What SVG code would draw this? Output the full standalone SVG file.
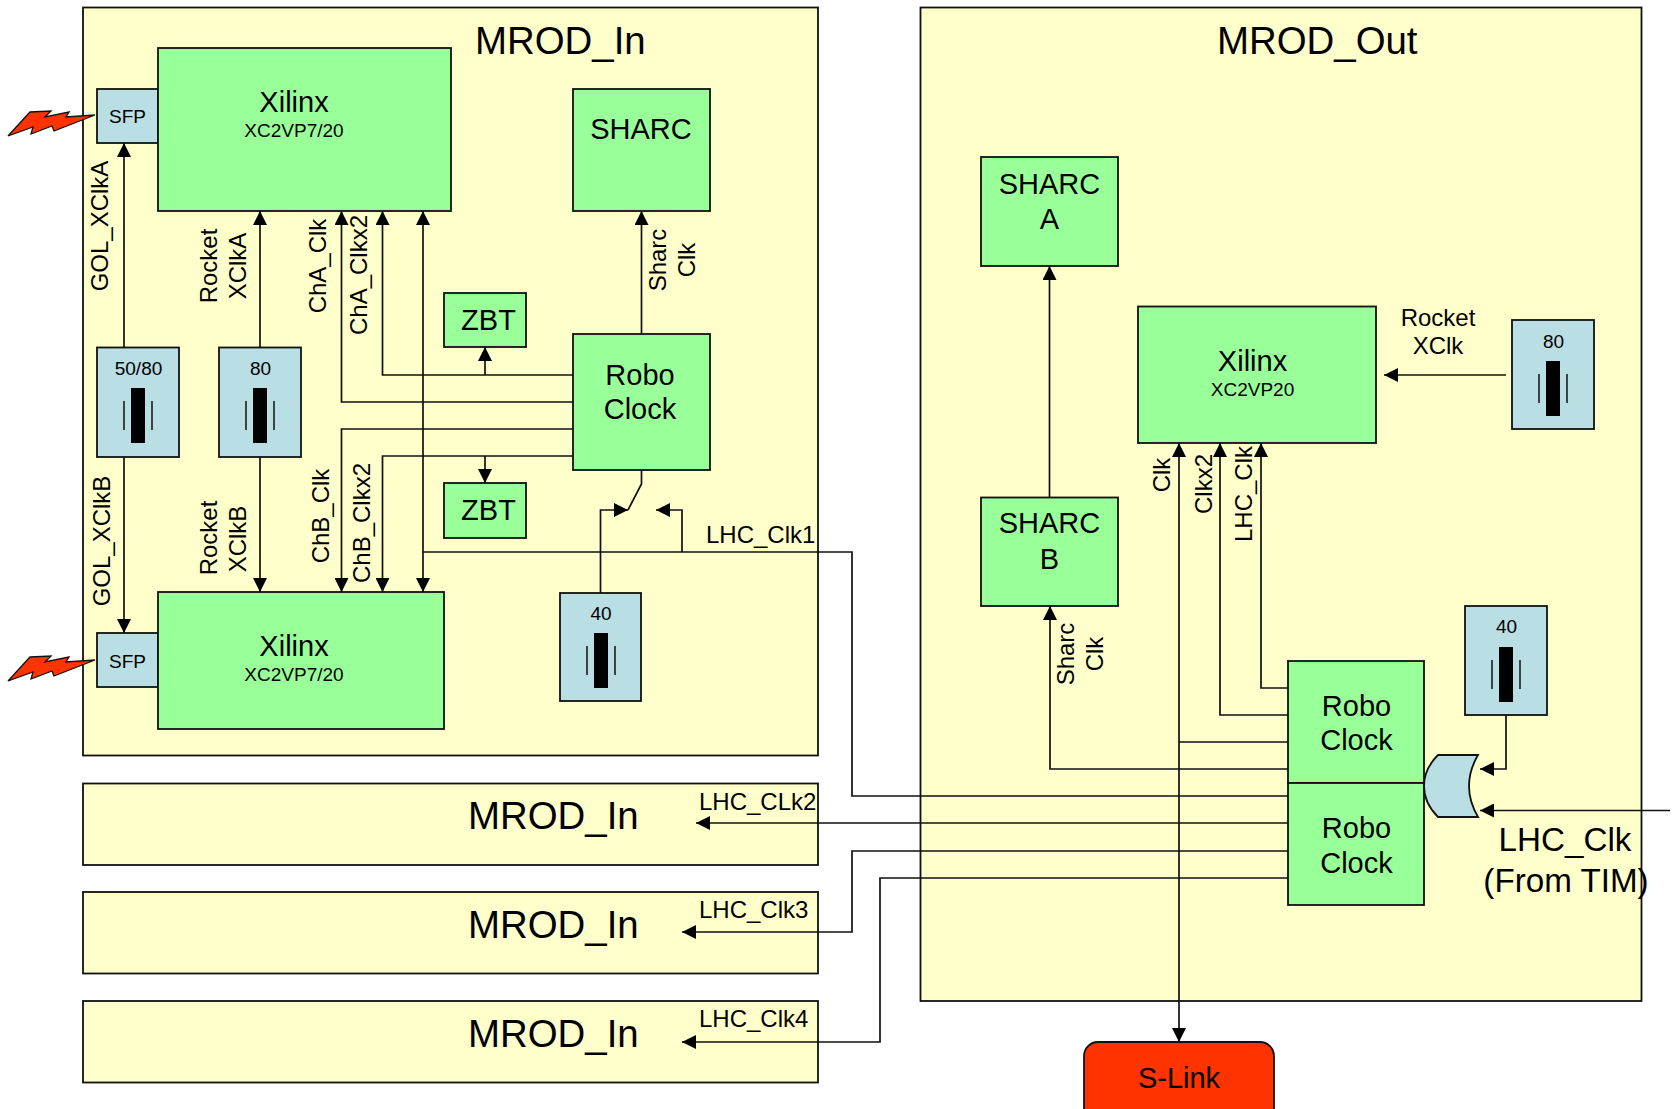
<svg xmlns="http://www.w3.org/2000/svg" width="1674" height="1109" viewBox="0 0 1674 1109">
<style>
text{font-family:"Liberation Sans",Arial,sans-serif;fill:#000;text-anchor:middle}
.box{stroke:#111;stroke-width:1.8}
.y{fill:#ffffcc}.g{fill:#99ff99}.b{fill:#b9dfe4}.r{fill:#ff3300}
.t38{font-size:38.4px}.t33{font-size:33.2px}.t29{font-size:29px}.t24{font-size:24px}.t19{font-size:19px}
.s{text-anchor:start}
.bar{fill:#000}
.tick{stroke:#111;stroke-width:1.5;fill:none}
.c{fill:none;stroke:#111;stroke-width:1.7}
.a{marker-end:url(#arr)}
</style>
<defs>
<marker id="arr" markerUnits="userSpaceOnUse" markerWidth="14" markerHeight="14" refX="14" refY="7" orient="auto-start-reverse"><path d="M0,0L14,7L0,14Z" fill="#000"/></marker>
<g id="xtal"><rect class="bar" x="-7" y="0" width="14" height="55"/><path class="tick" d="M-14,13V42M14,13V42"/></g>
<polygon id="bolt" points="8,136 30,112 51,111 45,117 69,112 66,117 95,115 54,131 52,126 31,134 33,127" class="r" stroke="#111" stroke-width="1.3"/>
</defs>

<g id="mrod-in-main"><rect class="box y" x="83" y="7.500" width="735" height="748"/><text class="t38 s" x="475" y="54">MROD_In</text></g>
<g id="mrod-in-2"><rect class="box y" x="83" y="783.500" width="735" height="81.500"/><text class="t38 s" x="468" y="829">MROD_In</text></g>
<g id="mrod-in-3"><rect class="box y" x="83" y="892" width="735" height="81.500"/><text class="t38 s" x="468" y="938">MROD_In</text></g>
<g id="mrod-in-4"><rect class="box y" x="83" y="1001" width="735" height="81.500"/><text class="t38 s" x="468" y="1047">MROD_In</text></g>
<g id="mrod-out"><rect class="box y" x="920.500" y="7.500" width="721" height="993.500"/><text class="t38 s" x="1217" y="54">MROD_Out</text></g>

<g id="bolt-a"><use href="#bolt"/></g>
<g id="bolt-b"><use href="#bolt" y="545"/></g>
<g id="sfp-a"><rect class="box b" x="97" y="89" width="61" height="54"/><text class="t19" x="127.500" y="123">SFP</text></g>
<g id="sfp-b"><rect class="box b" x="97" y="633" width="61" height="54"/><text class="t19" x="127.500" y="668">SFP</text></g>
<g id="xilinx-a"><rect class="box g" x="158" y="48" width="293" height="163"/><text class="t29" x="294" y="112">Xilinx</text><text class="t19" x="294" y="137">XC2VP7/20</text></g>
<g id="xilinx-b"><rect class="box g" x="158" y="592" width="286" height="137"/><text class="t29" x="294" y="656">Xilinx</text><text class="t19" x="294" y="681">XC2VP7/20</text></g>
<g id="sharc-in"><rect class="box g" x="573" y="89" width="137" height="122"/><text class="t29" x="641" y="139">SHARC</text></g>
<g id="zbt-1"><rect class="box g" x="444" y="293" width="82" height="54"/><text class="t29" x="488.500" y="330">ZBT</text></g>
<g id="zbt-2"><rect class="box g" x="444" y="483" width="82" height="55"/><text class="t29" x="488.500" y="520">ZBT</text></g>
<g id="robo-in"><rect class="box g" x="573" y="334" width="137" height="136"/><text class="t29" x="640" y="385">Robo</text><text class="t29" x="640" y="419">Clock</text></g>
<g id="osc-5080"><rect class="box b" x="97" y="347.500" width="82" height="109.500"/><text class="t19" x="138.500" y="375">50/80</text><use href="#xtal" x="138" y="388"/></g>
<g id="osc-80-in"><rect class="box b" x="219" y="347.500" width="82" height="109.500"/><text class="t19" x="260.500" y="375">80</text><use href="#xtal" x="260" y="388"/></g>
<g id="osc-40-in"><rect class="box b" x="560" y="593" width="81" height="108"/><text class="t19" x="601" y="620">40</text><use href="#xtal" x="601" y="633"/></g>

<g id="sharc-a"><rect class="box g" x="981" y="157" width="137" height="109"/><text class="t29" x="1049.500" y="194">SHARC</text><text class="t29" x="1049.500" y="229">A</text></g>
<g id="sharc-b"><rect class="box g" x="981" y="497.500" width="137" height="108.500"/><text class="t29" x="1049.500" y="533">SHARC</text><text class="t29" x="1049.500" y="569">B</text></g>
<g id="xilinx-out"><rect class="box g" x="1138" y="306.500" width="238" height="136.500"/><text class="t29" x="1252.500" y="371">Xilinx</text><text class="t19" x="1252.500" y="396">XC2VP20</text></g>
<g id="osc-80-out"><rect class="box b" x="1512" y="320" width="82" height="109"/><text class="t19" x="1553.500" y="348">80</text><use href="#xtal" x="1553" y="361"/></g>
<g id="osc-40-out"><rect class="box b" x="1465" y="606" width="82" height="109"/><text class="t19" x="1506.500" y="633">40</text><use href="#xtal" x="1506" y="647"/></g>
<g id="robo-out-1"><rect class="box g" x="1288" y="661" width="136" height="122"/><text class="t29" x="1356.500" y="716">Robo</text><text class="t29" x="1356.500" y="750">Clock</text></g>
<g id="robo-out-2"><rect class="box g" x="1288" y="783" width="136" height="122"/><text class="t29" x="1356.500" y="838">Robo</text><text class="t29" x="1356.500" y="873">Clock</text></g>
<g id="or-gate"><path class="box b" d="M1438,755H1478Q1460,786 1478,817H1438Q1424,803 1424,786Q1424,769 1438,755Z"/></g>
<g id="s-link"><rect class="box r" x="1084" y="1042" width="190" height="80" rx="14"/><text class="t29" x="1179" y="1088">S-Link</text></g>

<g id="connectors">
<path class="c a" d="M124,347V143"/>
<path class="c a" d="M124,457V633"/>
<path class="c a" d="M260,347V211"/>
<path class="c a" d="M260,457V592"/>
<path class="c a" d="M573,402H341.500V211"/>
<path class="c a" d="M573,375H382.500V211"/>
<path class="c a" d="M573,429H341.500V592"/>
<path class="c a" d="M573,456H382.500V592"/>
<path class="c a" d="M485,375V347"/>
<path class="c a" d="M485,456V483"/>
<path class="c a" d="M641.500,334V211"/>
<path class="c" d="M641.500,470V484L628,510"/>
<path class="c a" d="M600.500,593V510H628"/>
<path class="c a" d="M682,552V510H656"/>
<path class="c a" d="M423,592V211" marker-start="url(#arr)"/>
<path class="c" d="M423,552H852V796H1288"/>
<path class="c a" d="M1288,823H696"/>
<path class="c a" d="M1288,851H852V932H682"/>
<path class="c a" d="M1288,878H880V1042H682"/>
<path class="c a" d="M1049.500,497V266"/>
<path class="c a" d="M1288,769H1050V606"/>
<path class="c" d="M1179,742H1288"/>
<path class="c a" d="M1179,1042V443" marker-start="url(#arr)"/>
<path class="c a" d="M1288,715H1220V443"/>
<path class="c a" d="M1288,688H1261V443"/>
<path class="c a" d="M1506,375H1384"/>
<path class="c a" d="M1506,715V769H1480"/>
<path class="c a" d="M1670,810.500H1480"/>
</g>

<g id="labels">
<text class="t24" transform="translate(108,226) rotate(-90)">GOL_XClkA</text>
<text class="t24" transform="translate(110,541) rotate(-90)">GOL_XClkB</text>
<text class="t24" transform="translate(217,266) rotate(-90)">Rocket</text>
<text class="t24" transform="translate(246,266) rotate(-90)">XClkA</text>
<text class="t24" transform="translate(217,538) rotate(-90)">Rocket</text>
<text class="t24" transform="translate(246,539) rotate(-90)">XClkB</text>
<text class="t24" transform="translate(326,266) rotate(-90)">ChA_Clk</text>
<text class="t24" transform="translate(367,275) rotate(-90)">ChA_Clkx2</text>
<text class="t24" transform="translate(328.500,516) rotate(-90)">ChB_Clk</text>
<text class="t24" transform="translate(370,523) rotate(-90)">ChB_Clkx2</text>
<text class="t24" transform="translate(666,260) rotate(-90)">Sharc</text>
<text class="t24" transform="translate(695,260) rotate(-90)">Clk</text>
<text class="t24 s" x="706" y="543">LHC_Clk1</text>
<text class="t24 s" x="699" y="810">LHC_CLk2</text>
<text class="t24 s" x="699" y="918">LHC_Clk3</text>
<text class="t24 s" x="699" y="1027">LHC_Clk4</text>
<text class="t24" transform="translate(1074,654) rotate(-90)">Sharc</text>
<text class="t24" transform="translate(1103,654) rotate(-90)">Clk</text>
<text class="t24" transform="translate(1170,475) rotate(-90)">Clk</text>
<text class="t24" transform="translate(1212,484) rotate(-90)">Clkx2</text>
<text class="t24" transform="translate(1252,494) rotate(-90)">LHC_Clk</text>
<text class="t24" x="1438" y="326">Rocket</text>
<text class="t24" x="1438" y="354">XClk</text>
<text class="t33" x="1565" y="851">LHC_Clk</text>
<text class="t33" x="1566" y="892">(From TIM)</text>
</g>
</svg>
